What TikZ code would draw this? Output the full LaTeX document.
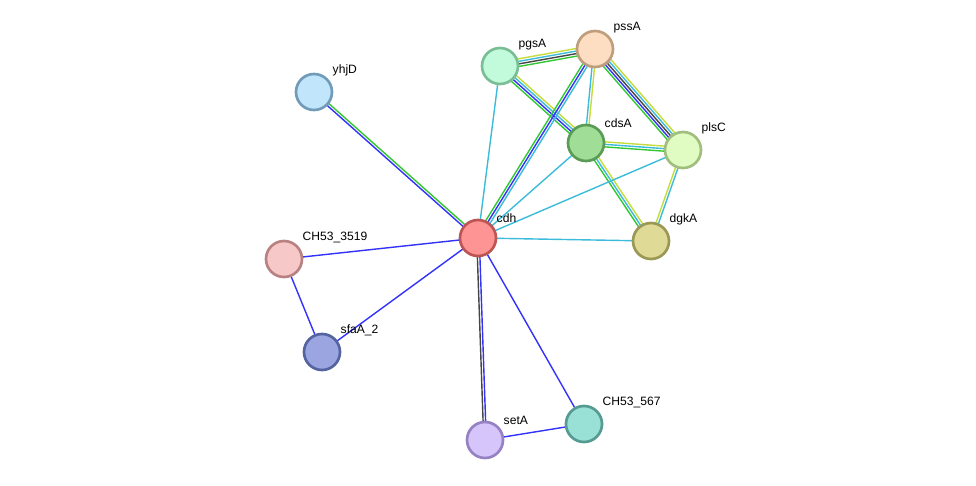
\documentclass[tikz,border=0pt]{standalone}
\usepackage{fontspec}
\setmainfont{Liberation Sans}
\usetikzlibrary{calc,backgrounds}
\definecolor{evcyan}{RGB}{60,188,218}
\definecolor{evgreen}{RGB}{50,200,50}
\definecolor{evblue}{RGB}{50,50,250}
\definecolor{evlime}{RGB}{198,220,60}
\definecolor{evgray}{RGB}{70,70,70}
\tikzstyle{prot} = [circle, line width=1.9pt, minimum size=0.9cm, inner sep=0pt]
\tikzstyle{tag} = [font=\fontsize{8.6}{10}\selectfont, inner sep=1.2pt, xshift=2.2pt]
\tikzstyle{link} = [line width=1pt]
\newcommand{\strlink}[3]{\foreach \c/\k in {#3}
  \draw[link, draw=\c] ($(#1)!\k*1.8pt!90:(#2)$) -- ($(#2)!\k*1.8pt!-90:(#1)$);}
\begin{document}
\begin{tikzpicture}[x=0.025cm, y=-0.025cm]
	\useasboundingbox (0,0) rectangle (976,486);
	\node [prot, fill={rgb,255:red,193;green,230;blue,251}, draw={rgb,255:red,113;green,155;blue,185}, label={[tag]45:yhjD}] (yhjD) at (314,92) {};
	\node [prot, fill={rgb,255:red,193;green,251;blue,220}, draw={rgb,255:red,122;green,190;blue,150}, label={[tag]45:pgsA}] (pgsA) at (500,66) {};
	\node [prot, fill={rgb,255:red,253;green,222;blue,194}, draw={rgb,255:red,190;green,158;blue,125}, label={[tag]45:pssA}] (pssA) at (595,49) {};
	\node [prot, fill={rgb,255:red,160;green,221;blue,150}, draw={rgb,255:red,90;green,155;blue,85}, label={[tag]45:cdsA}] (cdsA) at (586,143) {};
	\node [prot, fill={rgb,255:red,225;green,252;blue,195}, draw={rgb,255:red,160;green,190;blue,125}, label={[tag]45:plsC}] (plsC) at (683,150) {};
	\node [prot, fill={rgb,255:red,223;green,219;blue,150}, draw={rgb,255:red,155;green,152;blue,85}, label={[tag]45:dgkA}] (dgkA) at (651,241) {};
	\node [prot, fill={rgb,255:red,255;green,148;blue,148}, draw={rgb,255:red,190;green,85;blue,85}, label={[tag]45:cdh}] (cdh) at (478,238) {};
	\node [prot, fill={rgb,255:red,247;green,200;blue,200}, draw={rgb,255:red,185;green,130;blue,130}, label={[tag]45:CH53\_3519}] (ch3519) at (284,259) {};
	\node [prot, fill={rgb,255:red,155;green,166;blue,224}, draw={rgb,255:red,85;green,100;blue,160}, label={[tag]45:sfaA\_2}] (sfaA) at (322,352) {};
	\node [prot, fill={rgb,255:red,213;green,197;blue,250}, draw={rgb,255:red,150;green,130;blue,195}, label={[tag]45:setA}] (setA) at (485,440) {};
	\node [prot, fill={rgb,255:red,153;green,224;blue,214}, draw={rgb,255:red,85;green,155;blue,145}, label={[tag]45:CH53\_567}] (ch567) at (584,424) {};
	\begin{pgfonlayer}{background}
	\strlink{pgsA}{pssA}{evlime/1.5, evcyan/0.5, evgray/-0.5, evgreen/-1.5}
	\strlink{pgsA}{cdsA}{evlime/1.5, evcyan/0.5, evblue/-0.5, evgreen/-1.5}
	\strlink{pssA}{plsC}{evlime/2, evcyan/1, evgray/0, evblue/-1, evgreen/-2}
	\strlink{pssA}{cdsA}{evlime/0.5, evcyan/-0.5}
	\strlink{cdh}{pssA}{evgreen/1, evblue/0, evcyan/-1}
	\strlink{cdsA}{plsC}{evlime/1, evcyan/0, evgreen/-1}
	\strlink{cdsA}{dgkA}{evlime/1, evcyan/0, evgreen/-1}
	\strlink{plsC}{dgkA}{evlime/-0.5, evcyan/0.5}
	\strlink{cdh}{pgsA}{evcyan/0}
	\strlink{cdh}{cdsA}{evcyan/0}
	\strlink{cdh}{plsC}{evcyan/0}
	\strlink{cdh}{dgkA}{evcyan/0}
	\strlink{cdh}{yhjD}{evgreen/-0.5, evblue/0.5}
	\strlink{cdh}{setA}{evblue/0.5, evgray/-0.5}
	\strlink{cdh}{ch3519}{evblue/0}
	\strlink{cdh}{sfaA}{evblue/0}
	\strlink{cdh}{ch567}{evblue/0}
	\strlink{ch3519}{sfaA}{evblue/0}
	\strlink{setA}{ch567}{evblue/0}
	\end{pgfonlayer}
\end{tikzpicture}
\end{document}
